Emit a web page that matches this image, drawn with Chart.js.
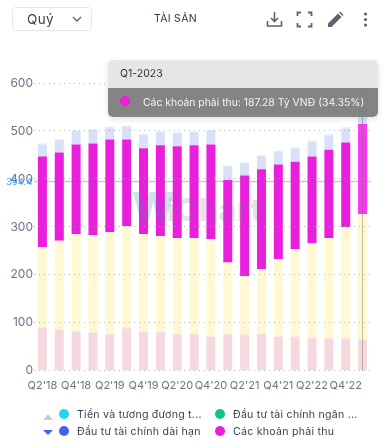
<!DOCTYPE html>
<html><head><meta charset="utf-8">
<style>
html,body{margin:0;padding:0;background:#fff;width:385px;height:448px;overflow:hidden;font-family:Inter,"Noto Sans",sans-serif}
#wrap{position:relative;width:385px;height:448px}
canvas{position:absolute;left:0;top:0}
.sel{position:absolute;left:12px;top:7px;width:80px;height:24px;border:1px solid #e2e5ec;border-radius:4px;box-sizing:border-box}
.sel span{position:absolute;left:14px;top:3px;font-size:13.5px;color:#3c4452;letter-spacing:.4px}
.sel svg{position:absolute;left:58px;top:7px}
.title{position:absolute;left:154px;top:12px;font-size:10.5px;color:#2f3744;letter-spacing:.3px}
.ic{position:absolute;top:11px}
.tip{position:absolute;left:108px;top:60px;width:270px;height:57px;border-radius:5px;overflow:hidden;box-shadow:0 2px 6px rgba(0,0,0,.12)}
.tip .h{height:28px;background:rgba(228,228,228,.93);color:#333;font-size:10.5px;line-height:28px;padding-left:12px}
.tip .b{height:29px;background:rgba(122,122,122,.92);color:#f5f5f5;font-size:10.4px;line-height:29px;padding-left:35px;position:relative;white-space:nowrap}
.tip i{position:absolute;left:12px;top:8px;width:10px;height:10px;border-radius:50%;background:#ea1fdc}
.lg{position:absolute;font-size:10.6px;color:#3a4250;white-space:nowrap;letter-spacing:.25px}
.dot{position:absolute;width:10px;height:10px;border-radius:50%}
.tri{position:absolute;width:0;height:0;border-left:5px solid transparent;border-right:5px solid transparent}
</style></head><body>
<div id="wrap">
<canvas id="c" width="385" height="448"></canvas>
<div class="sel"><span>Quý</span><svg width="12" height="8" viewBox="0 0 12 8"><path d="M2 2l4 4 4-4" fill="none" stroke="#5b6472" stroke-width="1.3"/></svg></div>
<div class="title">TÀI SẢN</div>
<svg class="ic" style="left:266px" width="17" height="17" viewBox="0 0 17 17"><path d="M8.5 1v9M5 7l3.5 3.5L12 7M1.5 10v5h14v-5" fill="none" stroke="#5b6472" stroke-width="1.6"/></svg>
<svg class="ic" style="left:296px" width="17" height="17" viewBox="0 0 17 17"><path d="M1.5 5V1.5H5M12 1.5h3.500V5M15.500 12v3.500H12M5 15.500H1.500V12" fill="none" stroke="#5b6472" stroke-width="1.8"/></svg>
<svg class="ic" style="left:327px" width="17" height="17" viewBox="0 0 17 17"><path d="M1 16v-3.500L11 2.500l3.500 3.500L4.500 16zM12 1.500l1-1 3.500 3.500-1 1z" fill="#5b6472"/></svg>
<svg class="ic" style="left:357px" width="17" height="17" viewBox="0 0 17 17"><circle cx="8.500" cy="3" r="1.600" fill="#5b6472"/><circle cx="8.500" cy="8.500" r="1.600" fill="#5b6472"/><circle cx="8.500" cy="14" r="1.600" fill="#5b6472"/></svg>
<div class="tip" id="tip"><div class="h" id="tipH"></div><div class="b"><i></i><span id="tipB"></span></div></div>
<div class="tri" style="left:43px;top:414px;border-bottom:6px solid #c6ccd6"></div>
<div class="tri" style="left:43px;top:430px;border-top:5px solid #3f62f0"></div>
<div class="dot" style="left:59px;top:409px;background:#22d3f2"></div>
<div class="lg" style="left:77px;top:408px">Tiền và tương đương t...</div>
<div class="dot" style="left:215px;top:409px;background:#14c284"></div>
<div class="lg" style="left:233px;top:408px">Đầu tư tài chính ngân ...</div>
<div class="dot" style="left:59px;top:426px;background:#4263e6"></div>
<div class="lg" style="left:77px;top:425px">Đầu tư tài chính dài hạn</div>
<div class="dot" style="left:215px;top:426px;background:#ea1fdc"></div>
<div class="lg" style="left:233px;top:425px">Các khoản phải thu</div>
</div>
<script src="https://cdn.jsdelivr.net/npm/chart.js@4/dist/chart.umd.min.js"></script>
<script>
const categories=["Q2'18","Q3'18","Q4'18","Q1'19","Q2'19","Q3'19","Q4'19","Q1'20","Q2'20","Q3'20","Q4'20","Q1'21","Q2'21","Q3'21","Q4'21","Q1'22","Q2'22","Q3'22","Q4'22","Q1'23"];
const shortInvest=[2,0,0,0,0,2,0,0,0,0,0,0,0,3,0,0,0,0,0,0];
const otherAssets=[88,86,82,80,76,86,82,80,76,76,71,76,74,73,71,71,68,66,66,63];
const tail=[0,0,0,0,1,3,0,1,2,1,1,1,3,1,1,1,3,3,3,3];
const inventory=[168,185,203,203,212,211,203,200,199,200,203,149,120,135,161,182,195,208,231,261];
const receivables=[189,184,187,191,193,180,179,189,191,193,197,172,210,208,197,182,181,184,176,187.28];
const longInvest=[25,27,28,28,26,27,28,28,28,28,28,28,26,28,27,28,30,29,29,29];
const cash=[2,0,1,1,1,2,1,1,1,1,2,2,1,1,2,2,3,3,3,2];
const yTicks=[0,100,200,300,400,500,600];
const crossValue=394.4;
const activeIndex=19;
const tipTitle="Q1-2023";
const tipText="Các khoản phải thu: 187.28 Tỷ VNĐ (34.35%)";
document.getElementById('tipH').textContent=tipTitle;
document.getElementById('tipB').textContent=tipText;

const mk=(label,data,color,active)=>({label,data,stack:'s',
  backgroundColor:active?data.map((_,i)=>i===activeIndex?active:color):color,
  barPercentage:.9,categoryPercentage:.594,borderWidth:0});

const overlay={id:'overlay',
 beforeDatasetsDraw(ch){
  const {ctx,scales:{y},chartArea:a}=ch;
  const cy=y.getPixelForValue(crossValue);
  ctx.save();
  ctx.strokeStyle='#c9c9c9';ctx.lineWidth=1.5;
  ctx.beginPath();ctx.moveTo(a.left,cy);ctx.lineTo(a.right,cy);ctx.stroke();
  ctx.restore();
 },
 afterDatasetsDraw(ch){
  const {ctx,scales:{x,y}}=ch;
  ctx.save();
  const cy=y.getPixelForValue(crossValue), cx=x.getPixelForValue(activeIndex);
  ctx.strokeStyle='rgba(120,120,120,.5)';ctx.lineWidth=1;
  ctx.beginPath();ctx.moveTo(Math.round(cx)-.5,y.getPixelForValue(600));ctx.lineTo(Math.round(cx)-.5,y.getPixelForValue(0));ctx.stroke();
  ctx.textBaseline='alphabetic';
  ctx.font='800 40px Inter, sans-serif';
  ctx.fillStyle='rgba(70,130,190,.24)';ctx.fillText('W',132,221);
  ctx.font='800 31px Inter, sans-serif';
  ctx.fillStyle='rgba(120,120,120,.2)';ctx.fillText('iChart',167,221);
  ctx.font='9.5px Inter, sans-serif';ctx.fillStyle='#4a9ff5';ctx.textAlign='left';ctx.textBaseline='middle';
  ctx.fillText(String(crossValue),6,cy+1);
  ctx.restore();
 }};

new Chart(document.getElementById('c'),{type:'bar',plugins:[overlay],
 data:{labels:categories,datasets:[
  mk('Đầu tư tài chính ngắn hạn',shortInvest,'#c9e9dc'),
  mk('Tài sản khác',otherAssets,'#f6d9de'),
  mk('Phần khác',tail,'#fde8d8'),
  mk('Hàng tồn kho',inventory,'#fff8d2'),
  mk('Các khoản phải thu',receivables,'#e91fdc','#ff33f5'),
  mk('Đầu tư tài chính dài hạn',longInvest,'#dbe0f9'),
  mk('Tiền và tương đương tiền',cash,'#cff5fd')
 ]},
 options:{responsive:false,animation:false,
  layout:{padding:{left:0,right:14,top:83,bottom:56}},
  plugins:{legend:{display:false},tooltip:{enabled:false}},
  scales:{
   x:{stacked:true,offset:true,grid:{display:false},border:{display:false},
      ticks:{autoSkip:false,maxRotation:0,padding:0,font:{size:11,family:'Inter'},color:'#6b7385',
        callback(v,i){return i%2===0?categories[i]:''}}},
   y:{stacked:true,min:0,max:600,
      afterBuildTicks(ax){ax.ticks=yTicks.map(value=>({value}))},
      afterFit(ax){ax.width=34},
      grid:{color:'rgba(150,158,170,.75)',lineWidth:1,drawTicks:false,z:1},
      border:{display:false,dash:[1,4]},
      ticks:{padding:1,font:{size:12,family:'Inter'},color:'#6b7385'}}
  }}});
</script>
</body></html>
